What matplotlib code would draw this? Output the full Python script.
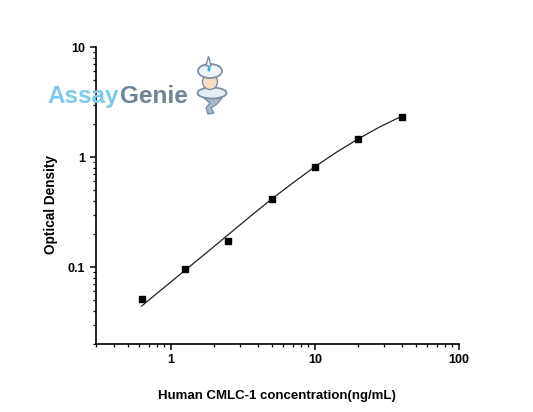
import numpy as np
import matplotlib
matplotlib.use("Agg")
import matplotlib.pyplot as plt
from matplotlib.patches import Ellipse, Circle, Polygon

plt.rcParams['font.family'] = ['Liberation Sans', 'DejaVu Sans']

# Standard points
conc = [0.625, 1.25, 2.5, 5, 10, 20, 40]
od = [0.0515, 0.097, 0.173, 0.415, 0.817, 1.47, 2.32]

# Fitted curve readings
curve_x = [0.625, 0.884, 1.25, 1.77, 2.5, 3.54, 5, 7.07, 10, 14.1, 20, 28.3, 40]
curve_y = [0.0442, 0.0643, 0.0933, 0.1355, 0.197, 0.288, 0.415, 0.586, 0.817, 1.107, 1.466, 1.884, 2.35]

xticks = [1, 10, 100]
xticklabels = ['1', '10', '100']
yticks = [0.1, 1, 10]
yticklabels = ['0.1', '1', '10']

W, H = 533, 412
fig = plt.figure(figsize=(W / 100, H / 100), dpi=100)
ax = fig.add_axes([95.7 / W, 1 - 344 / H, (459 - 95.7) / W, (344 - 47) / H])

ax.plot(curve_x, curve_y, color='#222222', lw=0.9, zorder=2)
ax.plot(conc, od, 's', color='black', ms=4.5, zorder=3)

ax.set_xscale('log')
ax.set_yscale('log')
ax.set_xlim(0.3, 100)
ax.set_ylim(0.02, 10)
for s in ['top', 'right']:
    ax.spines[s].set_visible(False)
for s in ['left', 'bottom']:
    ax.spines[s].set_linewidth(1.2)

ax.set_xticks(xticks)
ax.set_xticklabels(xticklabels)
ax.set_yticks(yticks)
ax.set_yticklabels(yticklabels)
ax.tick_params(which='major', direction='out', length=4.5, width=1.1, labelsize=9, pad=3)
ax.tick_params(which='minor', direction='out', length=2.5, width=0.9)
for lbl in ax.get_xticklabels() + ax.get_yticklabels():
    lbl.set_fontweight('bold')

ax.set_xlabel('Human CMLC-1 concentration(ng/mL)', fontsize=9.5, fontweight='bold', labelpad=17)
ax.set_ylabel('Optical Density', fontsize=9.8, fontweight='bold', labelpad=9)
ax.yaxis.set_label_coords(-0.105, 0.47)

# Logo text
fig.canvas.draw()
r = fig.canvas.get_renderer()
t1 = fig.text(47 / W, 1 - 103 / H, 'Assay', fontsize=17.5, color='#7ccbee', fontweight='bold',
              va='baseline', ha='left')
bb = t1.get_window_extent(renderer=r)
fig.text(bb.x1 / W + 1.5 / W, 1 - 103 / H, 'Genie', fontsize=17.5, color='#6e8397', fontweight='bold',
         va='baseline', ha='left')

# genie icon in pixel coordinates
lax = fig.add_axes([0, 0, 1, 1], facecolor='none')
lax.set_xlim(0, W)
lax.set_ylim(H, 0)
lax.axis('off')
oc = '#7d8fa2'
# tail
lax.add_patch(Polygon([[204, 98], [222, 98], [217, 104], [211, 108], [214, 113], [208, 114], [206, 108], [210, 103]],
                      closed=True, fc='#a9b9c8', ec=oc, lw=1.0, zorder=1))
# arms
lax.add_patch(Ellipse((212, 93), 29, 11, fc='#e4ebf1', ec=oc, lw=1.3, zorder=2))
# face
lax.add_patch(Circle((210, 82), 7.5, fc='#f7dcc2', ec=oc, lw=1.0, zorder=3))
# turban
lax.add_patch(Ellipse((210, 71), 24, 14, fc='#f2f5f8', ec=oc, lw=1.3, zorder=4))
lax.add_patch(Polygon([[206, 66], [208.5, 56], [211, 66]], closed=True, fc='#f2f5f8', ec=oc, lw=1.0, zorder=4))
lax.add_patch(Ellipse((209, 69), 3, 5, fc='#3fa9dd', ec='none', zorder=5))

fig.savefig('out.png', dpi=100)
